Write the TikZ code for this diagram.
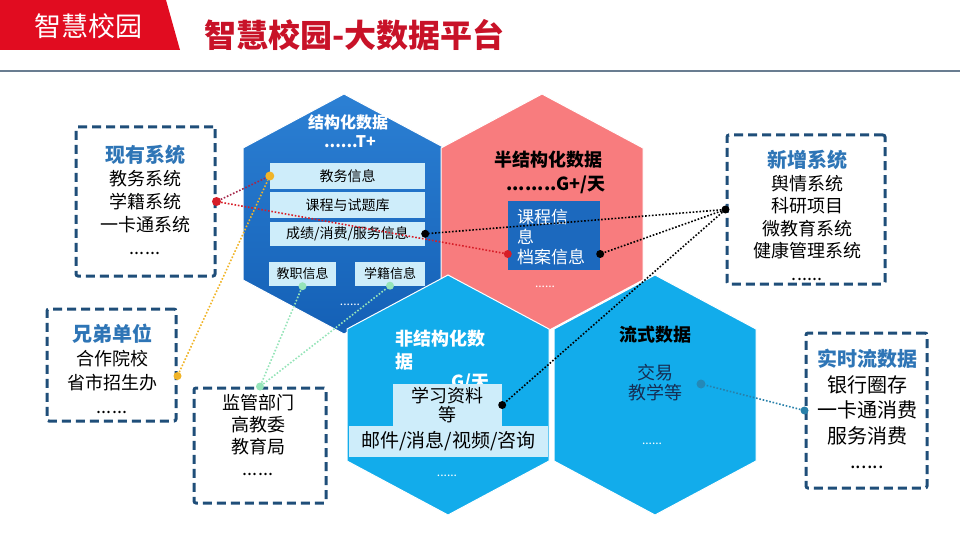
\documentclass[tikz,border=0pt]{standalone}
\usepackage{fontspec}
\setmainfont{Noto Sans CJK SC}
\usetikzlibrary{positioning, calc}

\definecolor{bannerred}{RGB}{225,12,32}
\definecolor{titlered}{RGB}{200,18,40}
\definecolor{boxblue}{RGB}{31,78,121}
\definecolor{headblue}{RGB}{46,117,182}
\definecolor{hextop}{RGB}{44,128,212}
\definecolor{hexbottom}{RGB}{20,96,182}
\definecolor{hexpink}{RGB}{248,124,126}
\definecolor{hexcyan}{RGB}{18,172,235}
\definecolor{rowblue}{RGB}{206,237,250}
\definecolor{courseblue}{RGB}{28,105,190}
\definecolor{navytext}{RGB}{22,45,82}
\definecolor{rulegray}{RGB}{105,125,145}
\definecolor{maroonlink}{RGB}{165,40,75}
\definecolor{redlink}{RGB}{215,30,40}
\definecolor{goldlink}{RGB}{240,180,40}
\definecolor{greenlink}{RGB}{150,228,185}
\definecolor{teallink}{RGB}{40,128,170}

\newcommand{\boxhead}[1]{{\fontsize{20}{23}\selectfont\bfseries\color{headblue}#1}}
\newcommand{\hexcell}[2]{%
  \draw[hexedge, #2, shift={#1}] (0,-120) -- (101,-66) -- (101,66) -- (0,120)
    -- (-101,66) -- (-101,-66) -- cycle;}

\tikzset{
  hexedge/.style={draw=white, line width=1pt},
  dashbox/.style={draw=boxblue, line width=3pt, dash pattern=on 9pt off 5pt,
    rounded corners=2pt, fill=white, inner sep=0pt},
  boxtext/.style={align=center, inner sep=0pt, text=black},
  rowbox/.style={fill=rowblue, minimum width=155pt, minimum height=26pt,
    inner sep=0pt, font=\fontsize{14}{14}\selectfont},
  smallrow/.style={fill=rowblue, minimum height=24pt, inner sep=0pt,
    font=\fontsize{13}{13}\selectfont},
  hexhead/.style={font=\fontsize{16}{16}\selectfont\bfseries, inner sep=0pt},
  hexdots/.style={text=white, font=\fontsize{12}{12}\selectfont, inner sep=0pt},
  dot/.style={circle, inner sep=0pt, minimum size=8pt},
  link/.style={line width=1.6pt, dash pattern=on 1.6pt off 1.8pt},
}

\begin{document}
\begin{tikzpicture}[x=1pt, y=-1pt]
  \useasboundingbox (0,0) rectangle (960,540);

  % header
  \fill[bannerred] (0,0) -- (166,0) -- (180,50) -- (0,50) -- cycle;
  \node[text=white, font=\fontsize{27}{27}\selectfont, inner sep=0pt] (tag) at (88,26) {智慧校园};
  \node[anchor=west, text=titlered, font=\fontsize{32}{32}\selectfont\bfseries, inner sep=0pt] (title) at (204,35) {智慧校园-大数据平台};
  \draw[rulegray, line width=1.5pt] (0,71) -- (960,71);

  % honeycomb
  \hexcell{(344,214)}{top color=hextop, bottom color=hexbottom}
  \hexcell{(542,214)}{fill=hexpink}
  \hexcell{(448,395)}{fill=hexcyan}
  \hexcell{(655,395)}{fill=hexcyan}

  % structured data
  \node[hexhead, text=white] (structtitle) at (348,122) {结构化数据};
  \node[hexhead, text=white] (structsize) at (350,142) {......T+};
  \node[rowbox] (row1) at (347.5,176) {教务信息};
  \node[rowbox, below=3pt of row1] (row2) {课程与试题库};
  \node[rowbox, below=3pt of row2, minimum height=24pt] (row3) {成绩/消费/服务信息};
  \node[smallrow, minimum width=67pt] (staff) at (302.5,274) {教职信息};
  \node[smallrow, minimum width=70pt] (reg) at (390,273.5) {学籍信息};
  \node[hexdots] (structmore) at (350,305) {......};

  % semi-structured data
  \node[hexhead, text=black, font=\fontsize{18}{18}\selectfont\bfseries] (semititle) at (548,160) {半结构化数据};
  \node[hexhead, text=black, font=\fontsize{18}{18}\selectfont\bfseries, anchor=east] (semisize) at (606,185) {........G+/天};
  \node[fill=courseblue, minimum width=92pt, minimum height=69pt, inner sep=0pt] (course) at (554,235.5) {};
  \node[anchor=north west, align=left, text=white, inner sep=0pt,
    font=\fontsize{17}{20}\selectfont] (coursetxt) at (517,209) {课程信\\息\\档案信息};
  \node[hexdots] (semimore) at (545,287) {......};

  % unstructured data
  \node[hexhead, text=white, anchor=north west, align=left, font=\fontsize{18}{23}\selectfont\bfseries] (unsttitle) at (395,330) {非结构化数\\据};
  \node[hexhead, text=white, anchor=east, font=\fontsize{18}{18}\selectfont\bfseries] (unstsize) at (490,383) {......G/天};
  \node[fill=rowblue, minimum width=109pt, minimum height=42pt, inner sep=0pt,
    align=center, font=\fontsize{18}{19}\selectfont] (study) at (447.5,405) {学习资料\\等};
  \node[fill=rowblue, minimum width=199pt, minimum height=31pt, inner sep=0pt,
    font=\fontsize{19}{19}\selectfont] (mail) at (448.5,441.5) {邮件/消息/视频/咨询};
  \node[hexdots] (unstmore) at (447,476) {......};

  % stream data
  \node[hexhead, text=black, font=\fontsize{18}{18}\selectfont\bfseries] (streamtitle) at (655,335) {流式数据};
  \node[align=center, text=navytext, inner sep=0pt, font=\fontsize{18}{20}\selectfont] (streamtxt) at (655,383) {交易\\教学等};
  \node[hexdots] (streammore) at (652,444) {......};

  % source boxes
  \node[dashbox, minimum width=139pt, minimum height=149pt] (exist) at (145.5,201.5) {};
  \node[boxtext, font=\fontsize{18}{23}\selectfont] (existtxt) at (145,199.5) {\boxhead{现有系统}\\教务系统\\学籍系统\\一卡通系统\\......};
  \node[dashbox, minimum width=129pt, minimum height=112pt] (bro) at (111.5,365) {};
  \node[boxtext, font=\fontsize{18}{24}\selectfont] (brotxt) at (112,369) {\boxhead{兄弟单位}\\合作院校\\省市招生办\\......};
  \node[dashbox, minimum width=132pt, minimum height=115pt] (sup) at (260,445.5) {};
  \node[boxtext, font=\fontsize{18}{22}\selectfont] (suptxt) at (258,435) {监管部门\\高教委\\教育局\\......};
  \node[dashbox, minimum width=158pt, minimum height=149pt] (new) at (806,209.5) {};
  \node[boxtext, font=\fontsize{18}{22.6}\selectfont] (newtxt) at (807,215.5) {\boxhead{新增系统}\\舆情系统\\科研项目\\微教育系统\\健康管理系统\\......};
  \node[dashbox, minimum width=121pt, minimum height=155pt] (real) at (866.5,410.5) {};
  \node[boxtext, font=\fontsize{20}{25.5}\selectfont] (realtxt) at (867,409) {\boxhead{实时流数据}\\银行圈存\\一卡通消费\\服务消费\\......};

  % link end points
  \node[dot, fill=redlink, minimum size=9pt] (dexist) at (exist.east) {};
  \node[dot, fill=goldlink, minimum size=9pt] (dfirst) at (row1.west) {};
  \node[dot, fill=redlink] (dcourse) at ([yshift=-18.5pt]course.west) {};
  \node[dot, fill=black] (dcourse2) at ([yshift=-18.5pt]course.east) {};
  \node[dot, fill=black] (dscore) at (row3.east) {};
  \node[dot, fill=goldlink] (dbro) at ([yshift=-11pt]bro.east) {};
  \node[dot, fill=greenlink] (dsup) at (sup.north) {};
  \node[dot, fill=greenlink] (dstaff) at (staff.south) {};
  \node[dot, fill=greenlink] (dreg) at (reg.south) {};
  \node[dot, fill=black] (dnew) at (new.west) {};
  \node[dot, fill=black] (dstudy) at (study.east) {};
  \node[dot, fill=teallink] (dreal) at (real.west) {};
  \node[dot, fill=teallink!80!hexcyan, minimum size=9pt] (dstream) at (701,384) {};

  % links
  \draw[link, maroonlink] (dexist) -- (dfirst);
  \draw[link, redlink] (dexist) -- (dcourse);
  \draw[link, goldlink] (dbro) -- (dfirst);
  \draw[link, greenlink] (dsup) -- (dstaff);
  \draw[link, greenlink] (dsup) -- (dreg);
  \draw[link, black] (dnew) -- (dscore);
  \draw[link, black] (dnew) -- (dcourse2);
  \draw[link, black] (dnew) -- (dstudy);
  \draw[link, teallink] (dreal) -- (dstream);
\end{tikzpicture}
\end{document}
